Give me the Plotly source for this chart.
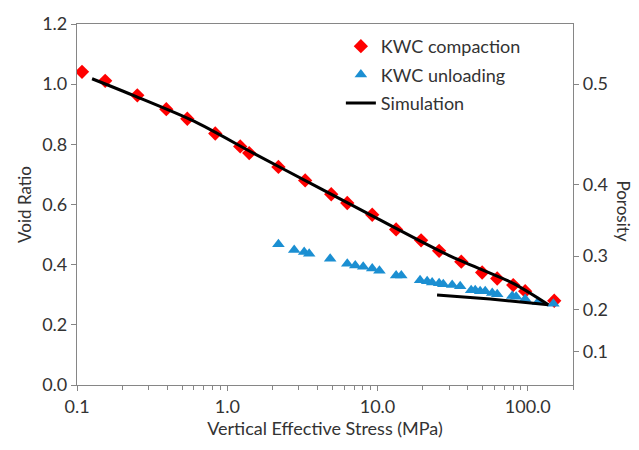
import plotly.graph_objects as go

# KWC compaction (red diamonds)
comp_stress = [0.108, 0.154, 0.252, 0.393, 0.542, 0.832, 1.22, 1.40, 2.19, 3.30, 4.92, 6.29,
               9.22, 13.3, 19.5, 25.7, 36.1, 49.7, 62.6, 80.0, 96.1, 150.0]
comp_void = [1.041, 1.011, 0.963, 0.917, 0.885, 0.836, 0.793, 0.771, 0.725, 0.680, 0.634, 0.605,
             0.566, 0.517, 0.481, 0.446, 0.410, 0.374, 0.354, 0.332, 0.312, 0.280]

# KWC unloading (blue triangles)
unl_stress = [2.19, 2.79, 3.25, 3.51, 4.84, 6.29, 7.11, 8.03, 9.22, 10.3, 13.3, 14.4, 19.2, 21.4,
              23.1, 25.7, 27.4, 31.4, 35.5, 42.0, 44.7, 48.2, 52.1, 58.0, 62.6, 78.8, 83.7,
              96.1, 117.0, 148.0]
unl_void = [0.468, 0.449, 0.442, 0.436, 0.420, 0.403, 0.397, 0.393, 0.387, 0.380, 0.364, 0.364,
            0.348, 0.345, 0.341, 0.338, 0.335, 0.332, 0.328, 0.315, 0.315, 0.312, 0.312, 0.306,
            0.302, 0.296, 0.293, 0.286, 0.276, 0.270]

# Simulation: loading branch and unloading branch
sim_load_stress = [0.126, 0.25, 0.6, 1.5, 4.0, 10.0, 30.0, 80.0, 137.0]
sim_load_void = [1.018, 0.958, 0.877, 0.770, 0.658, 0.553, 0.430, 0.338, 0.267]
sim_unl_stress = [137.0, 56.2, 24.9]
sim_unl_void = [0.267, 0.286, 0.299]

x_tickvals = [0.1, 1, 10, 100]
x_ticktext = ["0.1", "1.0", "10.0", "100.0"]
y_tickvals = [0.0, 0.2, 0.4, 0.6, 0.8, 1.0, 1.2]
y_ticktext = ["0.0", "0.2", "0.4", "0.6", "0.8", "1.0", "1.2"]
porosity_labels = [0.1, 0.2, 0.3, 0.4, 0.5]

FONT = "Lato"
AXC = "#868686"
TXT = "#333333"
TICK = 18

fig = go.Figure()
fig.add_trace(go.Scatter(x=comp_stress, y=comp_void, mode="markers", name="KWC compaction",
                         legendgroup="a",
                         marker=dict(symbol="diamond", size=11, color="#FF0000")))
fig.add_trace(go.Scatter(x=unl_stress, y=unl_void, mode="markers", name="KWC unloading",
                         legendgroup="b",
                         marker=dict(symbol="triangle-up", size=11, color="#1B8FD2")))
fig.add_trace(go.Scatter(x=sim_load_stress, y=sim_load_void, mode="lines", name="Simulation",
                         legendgroup="c",
                         line=dict(color="black", width=3, shape="spline", smoothing=0.8)))
fig.add_trace(go.Scatter(x=sim_unl_stress, y=sim_unl_void, mode="lines", name="Simulation",
                         legendgroup="c", showlegend=False,
                         line=dict(color="black", width=3)))
# invisible trace to activate right axis
fig.add_trace(go.Scatter(x=[0.1], y=[0], yaxis="y2", mode="markers",
                         marker=dict(opacity=0), showlegend=False, hoverinfo="skip"))

fig.update_layout(
    width=639, height=450,
    margin=dict(l=77, r=66, t=16, b=65),
    plot_bgcolor="white", paper_bgcolor="white",
    font=dict(family=FONT, size=TICK, color=TXT),
    showlegend=True,
    legend=dict(x=0.532, y=0.989, xanchor="left", yanchor="top",
                bgcolor="rgba(0,0,0,0)", font=dict(size=18, color=TXT),
                tracegroupgap=2, itemwidth=30),
    xaxis=dict(type="log", range=[-1, 2.301], tickvals=x_tickvals, ticktext=x_ticktext,
               showgrid=False, zeroline=False, showline=True, linecolor=AXC, linewidth=1.2,
               mirror=True, ticks="outside", ticklen=5, tickcolor=AXC,
               minor=dict(ticks="outside", ticklen=4, tickcolor=AXC, dtick="D1", showgrid=False),
               title=dict(text="Vertical Effective Stress (MPa)", standoff=6,
                          font=dict(size=18, color=TXT)),
               tickfont=dict(size=TICK, color=TXT)),
    yaxis=dict(range=[0, 1.2], tickvals=y_tickvals, ticktext=y_ticktext,
               showgrid=False, zeroline=False, showline=True, linecolor=AXC, linewidth=1.2,
               ticks="outside", ticklen=5, tickcolor=AXC,
               title=dict(text="Void Ratio", standoff=6, font=dict(size=17, color=TXT)),
               tickfont=dict(size=TICK, color=TXT)),
    yaxis2=dict(range=[0, 1.2], overlaying="y", side="right",
                tickvals=[n / (1 - n) for n in porosity_labels],
                ticktext=[f"{n:.1f}" for n in porosity_labels],
                showgrid=False, zeroline=False, showline=True, linecolor=AXC, linewidth=1.2,
                ticks="outside", ticklen=5, tickcolor=AXC,
                tickfont=dict(size=TICK, color=TXT)),
    annotations=[dict(text="Porosity", xref="paper", yref="paper", x=1.10, y=0.482,
                      xanchor="center", yanchor="middle",
                      textangle=90, showarrow=False, font=dict(size=17, color=TXT))],
)

fig.write_html("out.html")
